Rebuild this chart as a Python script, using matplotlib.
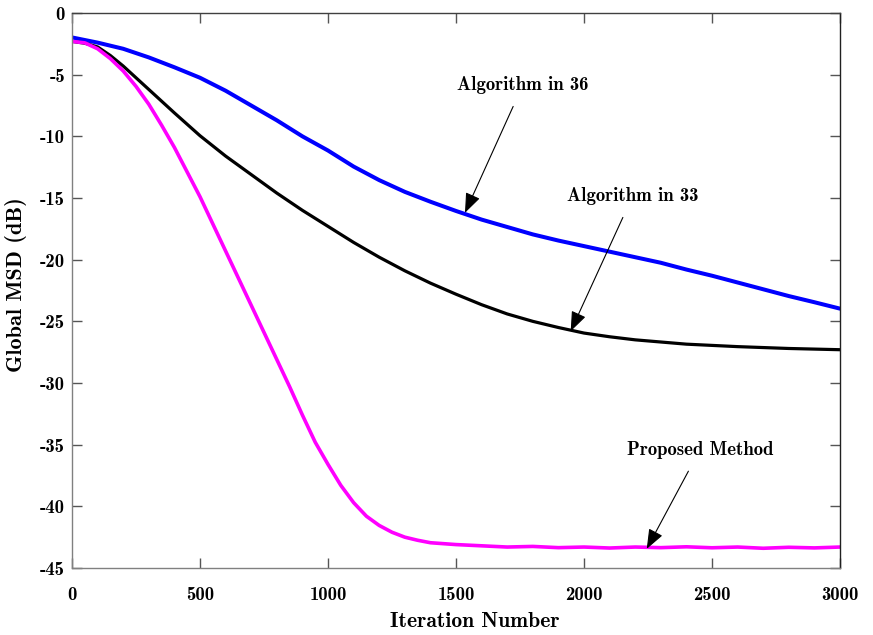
import matplotlib
matplotlib.use("Agg")
import matplotlib.pyplot as plt

plt.rcParams['axes.unicode_minus'] = False
FONT = ['cmb10', 'DejaVu Serif']

# Data
iters_blue = [0, 100, 200, 300, 400, 500, 600, 700, 800, 900, 1000, 1100, 1200, 1300, 1400, 1500, 1600,
              1700, 1800, 1900, 2000, 2100, 2200, 2300, 2400, 2500, 2600, 2700, 2800, 2900, 3000]
msd_blue = [-1.98, -2.4, -2.9, -3.6, -4.4, -5.25, -6.3, -7.5, -8.7, -10.0, -11.15, -12.45, -13.55, -14.5, -15.3,
            -16.05, -16.75, -17.35, -17.95, -18.45, -18.9, -19.35, -19.8, -20.25, -20.8, -21.3, -21.85, -22.4,
            -22.95, -23.45, -23.97]

iters_black = [0, 50, 100, 150, 200, 300, 400, 500, 600, 700, 800, 900, 1000, 1100, 1200, 1300, 1400, 1500,
               1600, 1700, 1800, 1900, 2000, 2100, 2200, 2400, 2600, 2800, 3000]
msd_black = [-2.3, -2.45, -2.75, -3.45, -4.3, -6.2, -8.1, -9.95, -11.6, -13.1, -14.6, -16.0, -17.3, -18.6,
             -19.8, -20.9, -21.9, -22.8, -23.65, -24.4, -25.0, -25.5, -25.95, -26.25, -26.5, -26.85, -27.05,
             -27.2, -27.3]

iters_mag = [0, 50, 100, 150, 200, 250, 300, 350, 400, 450, 500, 550, 600, 650, 700, 750, 800, 850, 900, 950,
             1000, 1050, 1100, 1150, 1200, 1250, 1300, 1350, 1400, 1500, 1600, 1700, 1800, 1900, 2000, 2100,
             2200, 2300, 2400, 2500, 2600, 2700, 2800, 2900, 3000]
msd_mag = [-2.3, -2.42, -2.9, -3.7, -4.7, -5.95, -7.4, -9.1, -10.9, -12.9, -14.9, -17.1, -19.3, -21.5,
           -23.7, -25.9, -28.1, -30.3, -32.6, -34.8, -36.6, -38.3, -39.7, -40.8, -41.55, -42.1, -42.5, -42.75,
           -42.95, -43.1, -43.2, -43.3, -43.25, -43.35, -43.3, -43.38, -43.3, -43.35, -43.28, -43.36, -43.3,
           -43.4, -43.32, -43.37, -43.3]

x_ticks = [0, 500, 1000, 1500, 2000, 2500, 3000]
y_ticks = [0, -5, -10, -15, -20, -25, -30, -35, -40, -45]

annotations = [
    ("Algorithm in 36", (1535, -16.2), (1762, -5.8)),
    ("Algorithm in 33", (1948, -25.8), (2191, -14.8)),
    ("Proposed Method", (2245, -43.45), (2453, -35.4)),
]

fig = plt.figure(figsize=(8.73, 6.35), dpi=100)
ax = fig.add_axes([0.0825, 0.1055, 0.8797, 0.874])

ax.plot(iters_blue, msd_blue, color='#0000ff', lw=2.9, solid_capstyle='round')
ax.plot(iters_black, msd_black, color='black', lw=2.3, solid_capstyle='round')
ax.plot(iters_mag, msd_mag, color='#ff00ff', lw=2.6, solid_capstyle='round')

ax.set_xlim(0, 3000)
ax.set_ylim(-45, 0)
ax.set_xticks(x_ticks)
ax.set_yticks(y_ticks)
ax.set_xticklabels([str(t) for t in x_ticks], fontfamily=FONT, fontsize=13.5)
ax.set_yticklabels([str(t) for t in y_ticks], fontfamily=FONT, fontsize=13.5)
ax.tick_params(direction='in', length=7, width=1, top=True, right=True, colors='#555555', labelcolor='black')
ax.tick_params(axis='x', pad=13)
ax.tick_params(axis='y', pad=5)

for side, col in [('left', '#808080'), ('bottom', '#808080'), ('top', '#404040'), ('right', '#202020')]:
    ax.spines[side].set_color(col)
    ax.spines[side].set_linewidth(1.0)

ax.set_xlabel("Iteration Number", fontfamily=FONT, fontsize=15.5)
ax.set_ylabel("Global MSD (dB)", fontfamily=FONT, fontsize=16)
ax.xaxis.set_label_coords(0.525, -0.079)
ax.yaxis.set_label_coords(-0.059, 0.51)

for label, xy, xytext in annotations:
    ax.annotate(label, xy=xy, xytext=xytext, fontfamily=FONT, fontsize=13.5,
                ha='center', va='center',
                arrowprops=dict(arrowstyle='-|>,head_length=0.9,head_width=0.35', color='black',
                                lw=0.8, shrinkA=8, shrinkB=0))

fig.savefig('out.png', dpi=100)
